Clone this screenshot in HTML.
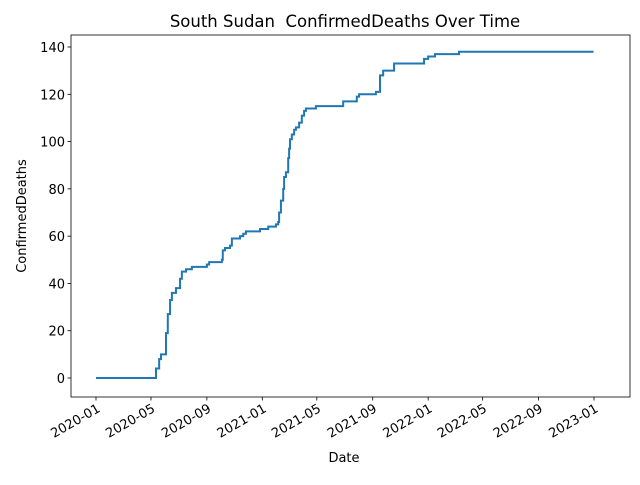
<!DOCTYPE html>
<html><head><meta charset="utf-8"><style>
body{margin:0;background:#fff}
svg text{font-family:"DejaVu Sans","Liberation Sans",sans-serif;fill:#000;white-space:pre}
</style></head><body>
<svg id="chart" width="640" height="480" xmlns="http://www.w3.org/2000/svg">
<rect width="640" height="480" fill="#fff"/>
<g id="plot"></g>
</svg>
<script>
const dates=["2020-01-01","2020-05-12","2020-05-19","2020-05-23","2020-06-03","2020-06-07","2020-06-12","2020-06-16","2020-06-25","2020-07-04","2020-07-08","2020-07-17","2020-07-30","2020-09-01","2020-09-06","2020-10-04","2020-10-06","2020-10-11","2020-10-22","2020-10-26","2020-11-13","2020-11-20","2020-11-26","2020-12-27","2021-01-14","2021-01-31","2021-02-05","2021-02-07","2021-02-11","2021-02-16","2021-02-18","2021-02-22","2021-02-27","2021-03-01","2021-03-03","2021-03-07","2021-03-12","2021-03-16","2021-03-23","2021-03-29","2021-04-03","2021-04-07","2021-04-29","2021-06-28","2021-07-28","2021-08-02","2021-09-08","2021-09-17","2021-09-24","2021-10-18","2021-12-23","2022-01-01","2022-01-16","2022-03-10","2022-12-31"];
const deaths=[0,4,8,10,19,27,33,36,38,42,45,46,47,48,49,50,54,55,56,59,60,61,62,63,64,65,66,70,75,80,85,87,93,97,101,103,105,106,108,111,113,114,115,117,119,120,121,128,130,133,135,136,137,138,138];
const xTicks=["2020-01","2020-05","2020-09","2021-01","2021-05","2021-09","2022-01","2022-05","2022-09","2023-01"];
const yTicks=[0,20,40,60,80,100,120,140];

const NS="http://www.w3.org/2000/svg";
const L=71,R=630,T=35,B=397;
const t0=Date.parse("2020-01-01"),t1=Date.parse("2023-01-01");
const x=d=>96+(Date.parse(d.length==7?d+"-01":d)-t0)/(t1-t0)*498;
const y=v=>378-v*(331/140);
const g=document.getElementById("plot");
function mk(tag,attrs,txt){const e=document.createElementNS(NS,tag);for(const k in attrs)e.setAttribute(k,attrs[k]);if(txt!=null)e.textContent=txt;g.appendChild(e);return e;}

let d="";
for(let i=0;i<dates.length;i++){
  const px=x(dates[i]),py=y(deaths[i]);
  if(i==0)d+="M"+px+","+py;else d+="H"+px+"V"+py;
}
const line=mk("path",{d:d,fill:"none",stroke:"#1f77b4","stroke-width":2});



const frame=mk("rect",{x:L,y:T,width:R-L,height:B-T,fill:"none",stroke:"#000","stroke-width":0.8});



yTicks.forEach(v=>{
  mk("line",{x1:L-3.5,x2:L,y1:y(v),y2:y(v),stroke:"#000","stroke-width":0.8});
  const t=mk("text",{x:L-6,y:y(v)+5,"text-anchor":"end","font-size":13},v);
  
  
});
xTicks.forEach(s=>{
  const px=x(s);
  mk("line",{x1:px,x2:px,y1:B,y2:B+3.5,stroke:"#000","stroke-width":0.8});
  const ax=px+5,ay=B+14;
  const t=mk("text",{x:ax,y:ay,"text-anchor":"end","font-size":13,transform:"rotate(-30 "+ax+" "+ay+")"},s);
  
  
});
const ttl=mk("text",{x:345,y:27,"text-anchor":"middle","font-size":16.5},"South Sudan  ConfirmedDeaths Over Time");


const xl=mk("text",{x:344,y:462,"text-anchor":"middle","font-size":13},"Date");


const yl=mk("text",{x:26,y:216,"text-anchor":"middle","font-size":13,transform:"rotate(-90 26 216)"},"ConfirmedDeaths");


</script>
</body></html>
